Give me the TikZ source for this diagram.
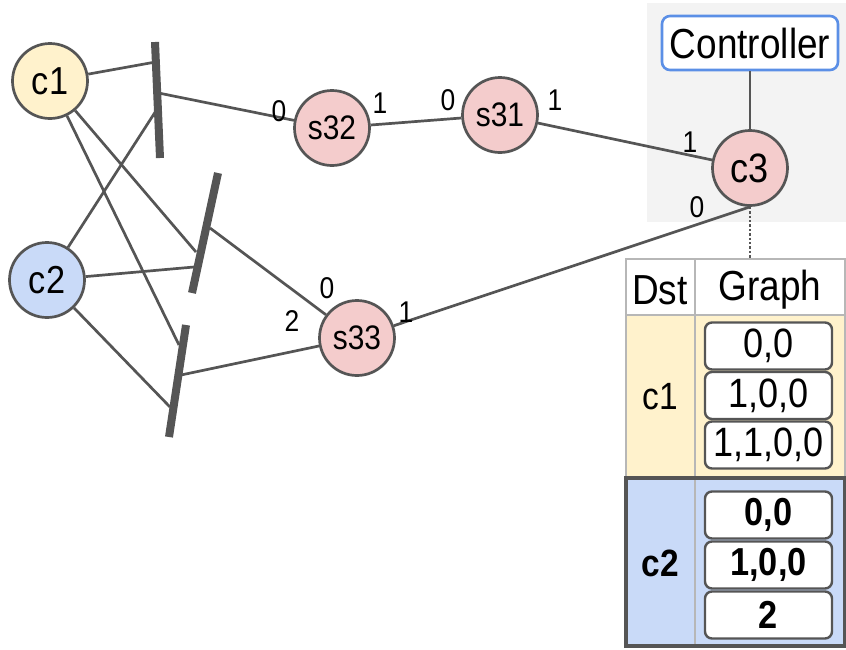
\documentclass[tikz,border=0pt]{standalone}
\usepackage{fontspec}
\setmainfont{Liberation Sans}[FakeStretch=0.88]
\definecolor{edgegray}{HTML}{555555}
\definecolor{gridgray}{HTML}{B7B7B7}
\definecolor{hostyellow}{HTML}{FFF2CC}
\definecolor{hostblue}{HTML}{C9DAF8}
\definecolor{switchpink}{HTML}{F4CCCC}
\definecolor{ctrlblue}{HTML}{5B8FE6}
\definecolor{panelgray}{HTML}{F3F3F3}
\begin{document}
\begin{tikzpicture}[x=1pt,y=-1pt,
  every node/.style={font=\fontsize{38}{39}\selectfont},
  dev/.style={circle, draw=edgegray, line width=2.7pt, minimum size=75pt, inner sep=0pt},
  switch/.style={dev, fill=switchpink, font=\fontsize{34}{35}\selectfont},
  link/.style={draw=edgegray, line width=2.7pt},
  bus/.style={draw=edgegray, line width=8pt},
  port/.style={font=\fontsize{30}{30}\selectfont, inner sep=0pt},
  grid/.style={draw=gridgray, line width=2.4pt},
  entry/.style={draw=edgegray, line width=2.4pt, rounded corners=7pt, fill=white,
    minimum width=127pt, minimum height=47pt, inner sep=0pt, font=\fontsize{41}{42}\selectfont},
  boldentry/.style={entry, font=\fontsize{39}{40}\selectfont\bfseries},
]
\useasboundingbox (0,0) rectangle (846,649);

% controller panel
\fill[panelgray] (647,3) rectangle (846,222);

% shared buses
\draw[bus] (155,42) -- (160,158);
\draw[bus] (218,173) -- (192,293);
\draw[bus] (186,325) -- (169,437);
\coordinate (b1a) at (155.5,62);
\coordinate (b1b) at (156.5,110);
\coordinate (b1o) at (158.5,93);
\coordinate (b2a) at (196,252);
\coordinate (b2b) at (194,267);
\coordinate (b2o) at (210,228);
\coordinate (b3a) at (179,345);
\coordinate (b3b) at (170,407);
\coordinate (b3o) at (181,375);

% devices
\node[dev, fill=hostyellow, font=\fontsize{39}{40}\selectfont] (c1) at (50,81) {c1};
\node[dev, fill=hostblue, font=\fontsize{39}{40}\selectfont] (c2) at (47,280) {c2};
\node[switch] (s32) at (332,128) {s32};
\node[switch] (s31) at (500,115) {s31};
\node[switch] (s33) at (357,338) {s33};
\node[dev, fill=switchpink, font=\fontsize{41}{42}\selectfont] (c3) at (750,168) {c3};
\node[draw=ctrlblue, line width=2.6pt, rounded corners=8pt, fill=white,
  minimum width=176pt, minimum height=54pt, inner sep=0pt,
  font=\fontsize{42}{43}\selectfont] (ctrl) at (750,43) {Controller};

% links
\draw[link] (c1) -- (b1a);
\draw[link] (c2) -- (b1b);
\draw[link] (c1) -- (b2a);
\draw[link] (c2) -- (b2b);
\draw[link] (c1) -- (b3a);
\draw[link] (c2) -- (b3b);
\draw[link] (b1o) -- (s32);
\draw[link] (b2o) -- (s33);
\draw[link] (b3o) -- (s33);
\draw[link] (s32) -- (s31);
\draw[link] (s31) -- (c3);
\draw[link] (s33) -- (c3.south);
\draw[link] (ctrl) -- (c3);

% port numbers
\node[port] at (279,111) {0};
\node[port] at (380,103) {1};
\node[port] at (448,100) {0};
\node[port] at (555,100) {1};
\node[port] at (690,142) {1};
\node[port] at (697,207) {0};
\node[port] at (327,288) {0};
\node[port] at (292,321) {2};
\node[port] at (406,312) {1};

% table
\coordinate (tabtop) at (750,259);
\draw[edgegray, line width=2.4pt, dotted] (c3.south) -- (tabtop);
\fill[white] (626,259) rectangle (845,315);
\fill[hostyellow] (626,315) rectangle (845,478);
\fill[hostblue] (626,478) rectangle (845,646);
\draw[grid] (626,259) rectangle (845,646);
\draw[grid] (695,259) -- (695,646);
\draw[grid] (626,315) -- (845,315);
\node[font=\fontsize{42}{43}\selectfont] (dst) at (660,290) {Dst};
\node[font=\fontsize{42}{43}\selectfont] (graph) at (770,290) {Graph};
\node (d1) at (660,397) {c1};
\node[entry] (e11) at (768.5,346) {0,0};
\node[entry] (e12) at (768.5,395.5) {1,0,0};
\node[entry] (e13) at (768.5,445) {1,1,0,0};
\node[font=\fontsize{38}{39}\selectfont\bfseries] (d2) at (660,563) {c2};
\node[boldentry] (e21) at (768.5,515) {0,0};
\node[boldentry] (e22) at (768.5,565) {1,0,0};
\node[boldentry] (e23) at (768.5,615) {2};
\draw[edgegray, line width=4.5pt] (626,478) rectangle (845,646);
\end{tikzpicture}
\end{document}
